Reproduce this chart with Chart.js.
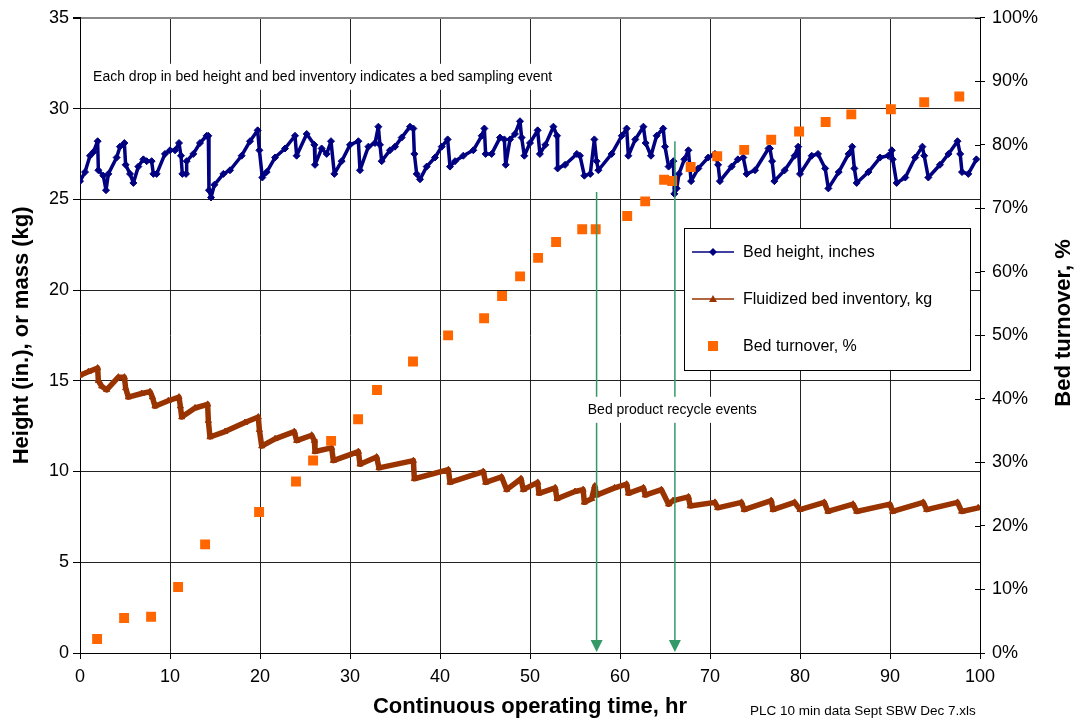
<!DOCTYPE html>
<html>
<head>
<meta charset="utf-8">
<title>Bed height, inventory and turnover</title>
<script src="https://cdn.jsdelivr.net/npm/chart.js@4/dist/chart.umd.min.js"></script>
<style>
  html, body { margin: 0; padding: 0; background: #fff; }
</style>
</head>
<body>
<canvas id="bedChart" width="1078" height="725"></canvas>
<script>
const bedHeight = [
  [0, 26.0], [0.56, 26.5], [1.11, 27.4], [1.48, 27.6], [1.96, 28.2], [2.04, 26.6], [2.59, 26.3], [2.89, 25.5],
  [3.15, 26.4], [4.07, 27.3], [4.44, 27.9], [4.93, 28.1], [5.07, 26.9], [5.56, 26.4], [5.93, 25.9], [6.48, 26.8],
  [7.04, 27.2], [7.41, 27.1], [7.96, 27.1], [8.15, 26.4], [8.52, 26.4], [9.44, 27.5], [10.0, 27.7], [10.56, 27.7],
  [11.0, 28.1], [11.22, 27.4], [11.37, 26.4], [11.78, 26.4], [11.85, 27.1], [12.59, 27.5], [13.33, 28.1], [14.07, 28.5],
  [14.26, 28.5], [14.33, 25.5], [14.56, 25.1], [14.93, 25.8], [15.93, 26.4], [16.67, 26.6], [17.96, 27.4], [18.89, 28.2],
  [19.74, 28.8], [19.93, 27.7], [20.26, 26.2], [20.74, 26.5], [21.67, 27.3], [22.78, 27.8], [23.89, 28.5], [24.07, 27.4],
  [25.19, 28.6], [26.04, 28.0], [26.11, 26.9], [26.85, 27.8], [27.41, 27.5], [27.89, 28.2], [28.26, 26.4], [29.07, 27.1],
  [30.0, 28.0], [30.93, 28.2], [31.11, 26.6], [32.04, 27.9], [32.78, 28.1], [33.15, 29.0], [33.33, 28.0], [33.52, 27.1],
  [34.44, 27.7], [35.0, 27.9], [35.74, 28.4], [36.67, 29.0], [37.04, 28.9], [37.15, 27.5], [37.41, 26.4], [37.78, 26.1],
  [38.52, 26.8], [39.44, 27.3], [40.19, 27.9], [40.85, 28.3], [41.11, 26.8], [41.67, 27.1], [42.59, 27.4], [43.7, 27.7],
  [44.63, 28.5], [44.93, 28.9], [45.07, 27.5], [45.74, 27.5], [46.67, 28.4], [47.15, 28.3], [47.3, 26.9], [47.78, 28.3],
  [48.33, 28.6], [48.89, 29.3], [49.07, 28.4], [49.37, 27.4], [50.0, 28.1], [50.85, 28.8], [51.1, 27.5], [51.7, 28.0],
  [52.6, 29.0], [53.0, 28.5], [53.07, 26.7], [53.9, 26.9], [55.2, 27.5], [55.55, 27.4], [56.04, 26.3], [56.7, 26.4],
  [57.15, 28.3], [57.4, 27.1], [57.6, 26.6], [59.07, 27.5], [60.2, 28.5], [60.74, 28.9], [60.93, 27.4], [61.7, 28.3],
  [62.6, 29.0], [62.85, 28.1], [63.44, 27.4], [64.07, 28.5], [64.8, 28.9], [65.0, 27.9], [65.4, 26.8], [65.93, 27.1],
  [66.04, 25.3], [66.3, 25.6], [66.55, 26.4], [67.15, 27.2], [67.6, 27.7], [67.9, 26.0], [68.7, 26.7], [69.8, 27.3],
  [70.55, 27.5], [70.9, 26.9], [71.1, 26.0], [72.4, 26.8], [73.1, 27.2], [73.7, 27.3], [74.07, 26.4], [75.0, 26.6],
  [76.5, 27.8], [76.66, 27.8], [76.9, 27.1], [77.15, 26.0], [78.3, 26.6], [79.4, 27.4], [79.8, 27.9], [80.0, 26.4],
  [81.3, 27.4], [82.0, 27.5], [82.8, 26.7], [83.15, 25.6], [84.3, 26.5], [85.4, 27.5], [85.8, 27.9], [86.04, 26.7],
  [86.3, 25.9], [87.6, 26.5], [88.9, 27.3], [89.8, 27.4], [90.2, 27.7], [90.3, 27.2], [90.74, 25.9], [91.7, 26.2],
  [92.8, 27.3], [93.6, 27.9], [93.8, 27.4], [94.26, 26.2], [95.55, 26.9], [96.5, 27.5], [97.5, 28.2], [97.8, 27.5],
  [98.0, 26.5], [98.7, 26.4], [99.6, 27.2]
];

// [hour, kg]
const bedInventory = [
  [0, 15.3], [0.93, 15.5], [1.96, 15.7], [2.04, 15.0], [2.41, 14.7], [2.96, 14.5], [4.26, 15.2], [4.93, 15.2],
  [5.07, 14.6], [5.37, 14.1], [6.85, 14.3], [7.78, 14.4], [8.04, 14.1], [8.33, 13.6], [9.81, 13.9], [11.0, 14.1],
  [11.15, 13.6], [11.3, 13.0], [12.78, 13.5], [14.18, 13.7], [14.26, 12.8], [14.44, 11.9], [16.11, 12.2], [18.33, 12.7],
  [19.81, 13.0], [19.93, 12.3], [20.19, 11.4], [21.67, 11.8], [23.81, 12.2], [24.07, 11.7], [25.74, 12.0], [26.04, 11.7],
  [26.11, 11.1], [27.96, 11.3], [28.15, 10.6], [30.93, 11.1], [31.11, 10.4], [32.96, 10.8], [33.22, 10.2], [37.04, 10.6],
  [37.15, 9.6], [40.93, 10.1], [41.11, 9.4], [44.81, 10.0], [45.07, 9.4], [46.85, 9.7], [47.41, 9.0], [49.0, 9.6],
  [49.26, 9.0], [50.85, 9.4], [51.0, 8.8], [52.8, 9.1], [53.0, 8.5], [55.0, 8.9], [55.9, 9.0], [56.04, 8.3],
  [56.85, 8.5], [57.2, 9.2], [57.4, 8.7], [59.4, 9.1], [60.74, 9.3], [60.93, 8.8], [62.6, 9.1], [62.8, 8.7],
  [64.6, 9.0], [65.4, 8.2], [65.9, 8.4], [67.6, 8.6], [67.8, 8.1], [70.55, 8.3], [70.85, 8.0], [73.5, 8.3],
  [73.8, 7.9], [76.8, 8.4], [77.0, 7.9], [79.4, 8.3], [80.0, 7.9], [82.7, 8.3], [83.1, 7.8], [85.9, 8.2],
  [86.3, 7.8], [90.0, 8.2], [90.3, 7.8], [93.7, 8.3], [94.07, 7.9], [97.5, 8.3], [97.96, 7.8], [99.8, 8.0]
];

// [hour, %]
const bedTurnover = [
  [1.9, 2.2], [4.9, 5.5], [7.9, 5.7], [10.9, 10.4], [13.9, 17.1], [19.9, 22.2], [24.0, 27.0], [25.9, 30.3],
  [27.9, 33.4], [30.9, 36.8], [33.0, 41.4], [37.0, 45.9], [40.9, 50.0], [44.9, 52.7], [46.9, 56.2], [48.9, 59.3],
  [50.9, 62.2], [52.9, 64.7], [55.8, 66.7], [57.3, 66.7], [60.8, 68.8], [62.8, 71.1], [64.9, 74.5], [65.8, 74.3],
  [67.85, 76.5], [70.8, 78.2], [73.8, 79.2], [76.8, 80.8], [79.9, 82.1], [82.85, 83.6], [85.7, 84.8], [90.1, 85.6],
  [93.8, 86.7], [97.7, 87.6]
];

// hours where the product was recycled, and where each arrow starts (left axis units)
const recycleHours = [57.4, 66.1];
const recycleArrowTops = [25.4, 28.2];

const seriesNames = ['Bed height, inches', 'Fluidized bed inventory, kg', 'Bed turnover, %'];
const samplingNote = 'Each drop in bed height and bed inventory indicates a bed sampling event';
const recycleNote = 'Bed product recycle events';
const fileNote = 'PLC 10 min data Sept SBW Dec 7.xls';

const FONT = 'Arial, "Liberation Sans", sans-serif';
const NAVY = '#000080';
const BROWN = '#993300';
const ORANGE = '#FF6600';
const GREEN = '#339966';

const toXY = (pairs) => pairs.map(([h, v]) => ({ x: h, y: v }));

// white-backed note text
function noteText(ctx, text, x, y, align) {
  ctx.font = '14px ' + FONT;
  const w = ctx.measureText(text).width;
  const left = align === 'center' ? x - w / 2 : x;
  ctx.fillStyle = '#fff';
  ctx.fillRect(left - 5, y - 13, w + 10, 26);
  ctx.fillStyle = '#000';
  ctx.textAlign = 'left';
  ctx.textBaseline = 'middle';
  ctx.fillText(text, left, y);
}

const overlay = {
  id: 'overlay',
  afterDatasetsDraw(chart) {
    const { ctx, chartArea, scales } = chart;
    const x = scales.x, y = scales.y, y1 = scales.y1;
    ctx.save();

    // right axis ticks also poke into the plot
    ctx.strokeStyle = '#000';
    ctx.lineWidth = 1;
    y1.ticks.forEach((t) => {
      const py = Math.round(y1.getPixelForValue(t.value)) + 0.5;
      ctx.beginPath();
      ctx.moveTo(chartArea.right - 5, py);
      ctx.lineTo(chartArea.right, py);
      ctx.stroke();
    });

    // recycle arrows
    ctx.strokeStyle = GREEN;
    ctx.fillStyle = GREEN;
    ctx.lineWidth = 1.5;
    recycleHours.forEach((h, i) => {
      const px = x.getPixelForValue(h);
      const top = y.getPixelForValue(recycleArrowTops[i]);
      const tip = y.getPixelForValue(0) - 1;
      ctx.beginPath();
      ctx.moveTo(px, top);
      ctx.lineTo(px, tip - 8);
      ctx.stroke();
      ctx.beginPath();
      ctx.moveTo(px - 6, tip - 12);
      ctx.lineTo(px + 6, tip - 12);
      ctx.lineTo(px, tip);
      ctx.closePath();
      ctx.fill();
    });

    noteText(ctx, samplingNote, x.getPixelForValue(1.45), y.getPixelForValue(31.75), 'left');
    noteText(ctx, recycleNote, x.getPixelForValue(65.8), y.getPixelForValue(13.4), 'center');

    // legend box
    const lx = 684, ly = 228, lw = 286, lh = 142;
    ctx.fillStyle = '#fff';
    ctx.fillRect(lx, ly, lw, lh);
    ctx.strokeStyle = '#000';
    ctx.lineWidth = 1;
    ctx.strokeRect(lx + 0.5, ly + 0.5, lw, lh);
    const rows = [ly + 24, ly + 71, ly + 118];
    const mx = lx + 29;
    ctx.font = '16px ' + FONT;
    ctx.textBaseline = 'middle';
    ctx.textAlign = 'left';
    rows.forEach((ry, i) => {
      if (i < 2) {
        ctx.strokeStyle = i === 0 ? NAVY : BROWN;
        ctx.lineWidth = 1.5;
        ctx.beginPath();
        ctx.moveTo(lx + 8, ry);
        ctx.lineTo(lx + 50, ry);
        ctx.stroke();
      }
      ctx.fillStyle = [NAVY, BROWN, ORANGE][i];
      ctx.beginPath();
      if (i === 0) {
        ctx.moveTo(mx, ry - 4); ctx.lineTo(mx + 4, ry); ctx.lineTo(mx, ry + 4); ctx.lineTo(mx - 4, ry);
      } else if (i === 1) {
        ctx.moveTo(mx, ry - 4); ctx.lineTo(mx + 4, ry + 3); ctx.lineTo(mx - 4, ry + 3);
      } else {
        ctx.rect(mx - 5, ry - 5, 10, 10);
      }
      ctx.closePath();
      ctx.fill();
      ctx.fillStyle = '#000';
      ctx.fillText(seriesNames[i], lx + 59, ry + 1);
    });

    // right axis title reads bottom-to-top like the left one
    ctx.save();
    ctx.translate(1064, 323);
    ctx.rotate(-Math.PI / 2);
    ctx.font = 'bold 22px ' + FONT;
    ctx.textAlign = 'center';
    ctx.textBaseline = 'middle';
    ctx.fillStyle = '#000';
    ctx.fillText('Bed turnover, %', 0, 0);
    ctx.restore();

    ctx.font = '13.5px ' + FONT;
    ctx.textAlign = 'left';
    ctx.textBaseline = 'middle';
    ctx.fillStyle = '#000';
    ctx.fillText(fileNote, 750, 711);

    ctx.restore();
  }
};

const tickFont = { family: FONT, size: 18 };
const titleFont = { family: FONT, size: 22, weight: 'bold' };

new Chart(document.getElementById('bedChart'), {
  type: 'scatter',
  data: {
    datasets: [
      {
        label: seriesNames[0],
        data: toXY(bedHeight),
        yAxisID: 'y',
        showLine: true,
        borderColor: NAVY,
        backgroundColor: NAVY,
        borderWidth: 3.5,
        borderJoinStyle: 'round',
        borderCapStyle: 'round',
        pointStyle: 'rectRot',
        pointRadius: 3.5,
        pointBorderWidth: 1,
        order: 1
      },
      {
        label: seriesNames[1],
        data: toXY(bedInventory),
        yAxisID: 'y',
        showLine: true,
        borderColor: BROWN,
        backgroundColor: BROWN,
        borderWidth: 5.5,
        borderJoinStyle: 'round',
        borderCapStyle: 'round',
        pointStyle: 'triangle',
        pointRadius: 3.5,
        pointBorderWidth: 1,
        order: 2
      },
      {
        label: seriesNames[2],
        data: toXY(bedTurnover),
        yAxisID: 'y1',
        showLine: false,
        borderColor: ORANGE,
        backgroundColor: ORANGE,
        pointStyle: 'rect',
        pointRadius: 7,
        pointBorderWidth: 0,
        order: 0
      }
    ]
  },
  options: {
    responsive: false,
    animation: false,
    devicePixelRatio: 1,
    layout: { padding: { top: 16, left: 0, right: 0, bottom: 0 } },
    plugins: {
      legend: { display: false },
      tooltip: { enabled: false }
    },
    scales: {
      x: {
        type: 'linear',
        min: 0,
        max: 100,
        ticks: { stepSize: 10, color: '#000', font: tickFont, padding: 7, maxRotation: 0 },
        grid: { color: '#222', lineWidth: 1, tickLength: 6, tickColor: '#000' },
        border: { color: '#000', width: 1 },
        title: { display: true, text: 'Continuous operating time, hr', color: '#000', font: titleFont, padding: { top: 0, bottom: 5 } },
        afterFit(scale) { scale.height = 72; }
      },
      y: {
        position: 'left',
        min: 0,
        max: 35,
        ticks: { stepSize: 5, color: '#000', font: tickFont, padding: 4 },
        grid: {
          color: (c) => (c.tick && c.tick.value === 35 ? '#888' : '#222'),
          lineWidth: (c) => (c.tick && c.tick.value === 35 ? 2 : 1),
          tickLength: 7,
          tickColor: '#000'
        },
        border: { color: '#000', width: 1 },
        title: { display: true, text: 'Height (in.), or mass (kg)', color: '#000', font: titleFont, padding: { top: 9, bottom: 0 } },
        afterFit(scale) { scale.width = 80; }
      },
      y1: {
        position: 'right',
        min: 0,
        max: 100,
        ticks: { stepSize: 10, color: '#000', font: tickFont, padding: 7, callback: (v) => v + '%' },
        grid: { drawOnChartArea: false, tickLength: 5, tickColor: '#000' },
        border: { color: '#000', width: 1 },
        afterFit(scale) { scale.width = 98; }
      }
    }
  },
  plugins: [overlay]
});
</script>
</body>
</html>
